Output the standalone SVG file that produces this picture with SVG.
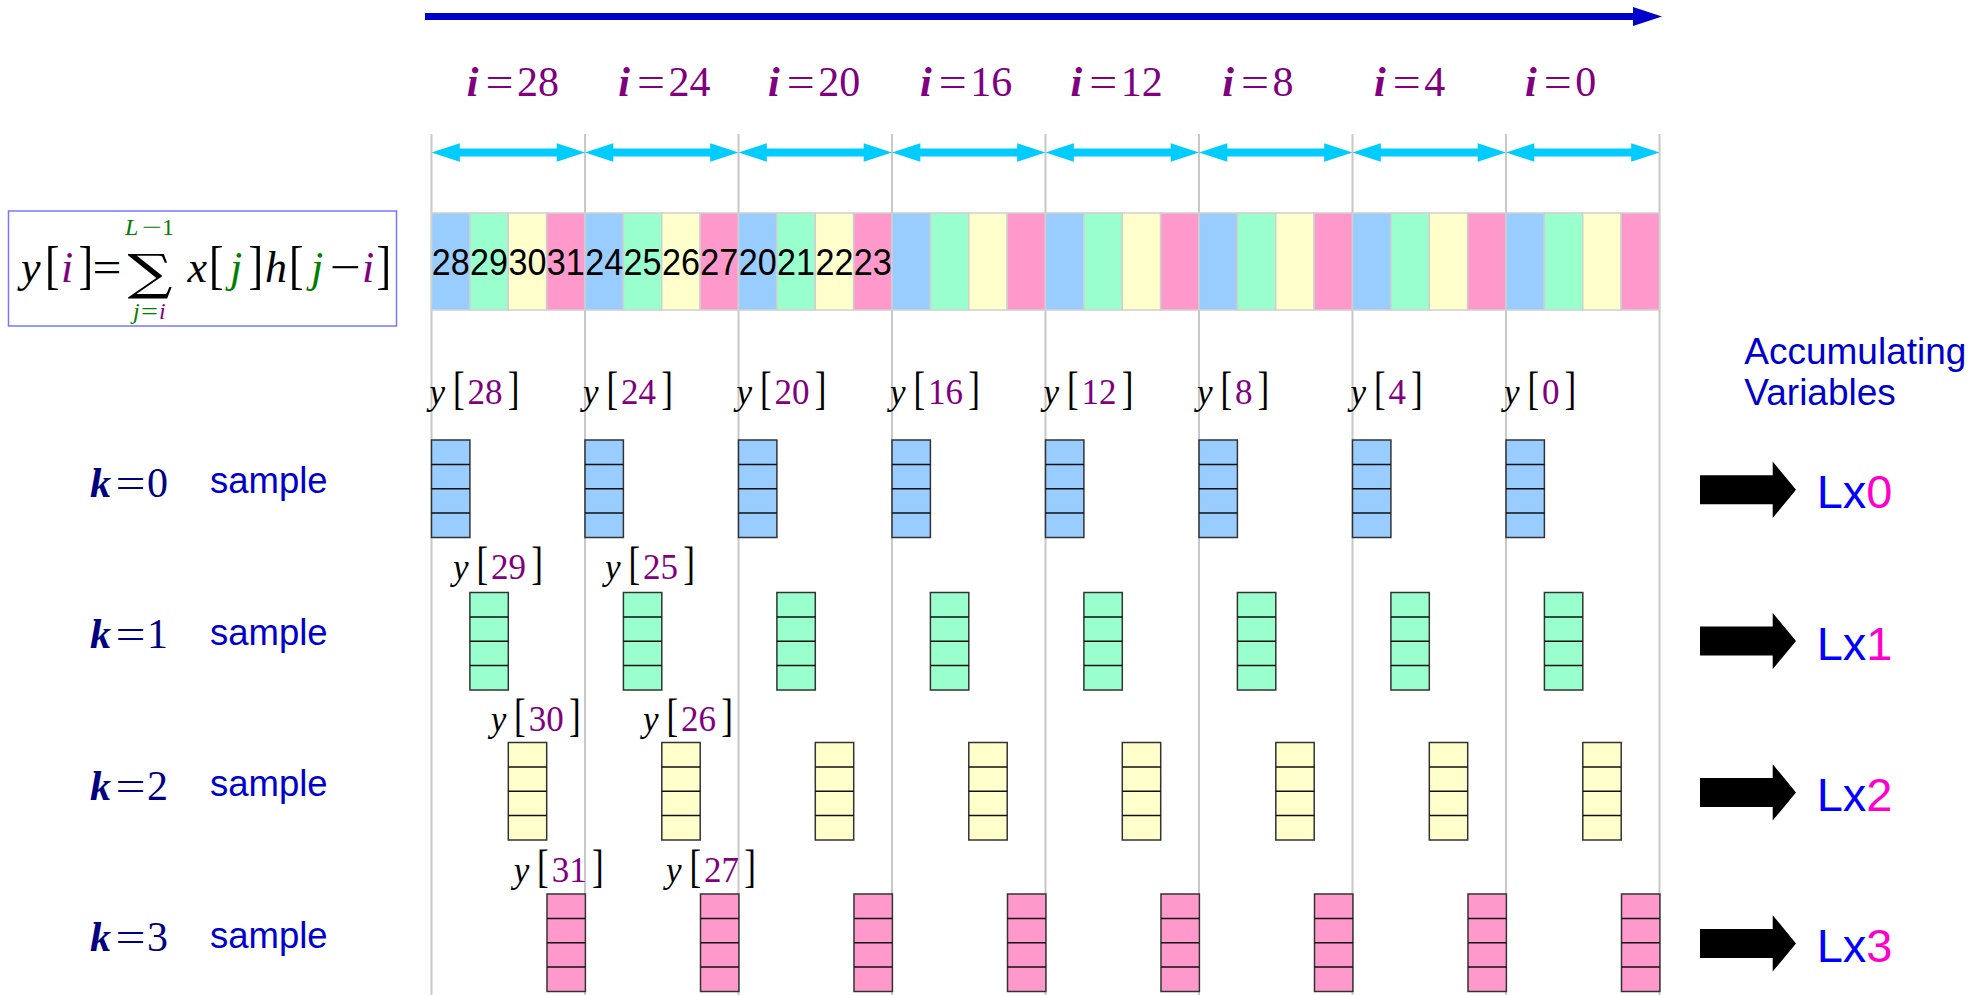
<svg xmlns="http://www.w3.org/2000/svg" xmlns:xlink="http://www.w3.org/1999/xlink" width="1984" height="995" viewBox="0 0 1984 995">
<style>
.serif{font-family:"Liberation Serif","Times New Roman",serif}
.it{font-style:italic}
.pu{fill:#800080}
.gr{fill:#008000}
.bk{fill:#000000}
.grid{stroke:#c8c8c8;stroke-width:2}
.cell{stroke:#d0d0d0;stroke-width:1.5}
.c0{fill:#99ccff}
.c1{fill:#99ffcc}
.c2{fill:#ffffcc}
.c3{fill:#ff99cc}
.cyan{fill:#00ccff}
.big{fill:#000000}
.ylab text{font-family:"Liberation Serif","Times New Roman",serif;font-size:35px}
.ilab{font-family:"Liberation Serif","Times New Roman",serif;font-size:42px;fill:#800080}
.klab{font-family:"Liberation Serif","Times New Roman",serif;font-size:42px;fill:#000080}
.samp{font-family:"Liberation Sans",Arial,sans-serif;font-size:36.5px;fill:#0000cc}
.acc{font-family:"Liberation Sans",Arial,sans-serif;font-size:37px;fill:#0000cc}
.lx{font-family:"Liberation Sans",Arial,sans-serif;font-size:47px}
.num{font-family:"Liberation Sans",Arial,sans-serif;font-size:37px;fill:#000}
</style>
<defs>
<g id="stk">
<rect x="0" y="0" width="38.4" height="97.5" stroke="#333" stroke-width="1.5"/>
<path d="M0 24.4H38.4M0 48.8H38.4M0 73.1H38.4" stroke="#111" stroke-width="1.5" fill="none"/>
</g>
</defs>
<rect width="1984" height="995" fill="#fff"/>

<g id="grid">
<line class="grid" x1="431.5" y1="134" x2="431.5" y2="995"/>
<line class="grid" x1="585" y1="134" x2="585" y2="995"/>
<line class="grid" x1="738.5" y1="134" x2="738.5" y2="995"/>
<line class="grid" x1="892" y1="134" x2="892" y2="995"/>
<line class="grid" x1="1045.5" y1="134" x2="1045.5" y2="995"/>
<line class="grid" x1="1199" y1="134" x2="1199" y2="995"/>
<line class="grid" x1="1352.5" y1="134" x2="1352.5" y2="995"/>
<line class="grid" x1="1506" y1="134" x2="1506" y2="995"/>
<line class="grid" x1="1659.5" y1="134" x2="1659.5" y2="995"/>
</g>

<g id="connectors">
<line x1="425" y1="16.5" x2="1636" y2="16.5" stroke="#0000cc" stroke-width="7"/>
<polygon points="1633,7 1662,16.5 1633,26" fill="#0000cc"/>
<g id="span-arrows">
<rect class="cyan" x="455" y="148.5" width="106.5" height="8"/>
<polygon class="cyan" points="431.5,152.5 459.8,143.3 459.8,161.7"/>
<polygon class="cyan" points="585,152.5 556.7,143.3 556.7,161.7"/>
<rect class="cyan" x="608.5" y="148.5" width="106.5" height="8"/>
<polygon class="cyan" points="585,152.5 613.3,143.3 613.3,161.7"/>
<polygon class="cyan" points="738.5,152.5 710.2,143.3 710.2,161.7"/>
<rect class="cyan" x="762" y="148.5" width="106.5" height="8"/>
<polygon class="cyan" points="738.5,152.5 766.8,143.3 766.8,161.7"/>
<polygon class="cyan" points="892,152.5 863.7,143.3 863.7,161.7"/>
<rect class="cyan" x="915.5" y="148.5" width="106.5" height="8"/>
<polygon class="cyan" points="892,152.5 920.3,143.3 920.3,161.7"/>
<polygon class="cyan" points="1045.5,152.5 1017.2,143.3 1017.2,161.7"/>
<rect class="cyan" x="1069" y="148.5" width="106.5" height="8"/>
<polygon class="cyan" points="1045.5,152.5 1073.8,143.3 1073.8,161.7"/>
<polygon class="cyan" points="1199,152.5 1170.7,143.3 1170.7,161.7"/>
<rect class="cyan" x="1222.5" y="148.5" width="106.5" height="8"/>
<polygon class="cyan" points="1199,152.5 1227.3,143.3 1227.3,161.7"/>
<polygon class="cyan" points="1352.5,152.5 1324.2,143.3 1324.2,161.7"/>
<rect class="cyan" x="1376" y="148.5" width="106.5" height="8"/>
<polygon class="cyan" points="1352.5,152.5 1380.8,143.3 1380.8,161.7"/>
<polygon class="cyan" points="1506,152.5 1477.7,143.3 1477.7,161.7"/>
<rect class="cyan" x="1529.5" y="148.5" width="106.5" height="8"/>
<polygon class="cyan" points="1506,152.5 1534.3,143.3 1534.3,161.7"/>
<polygon class="cyan" points="1659.5,152.5 1631.2,143.3 1631.2,161.7"/>
</g>
<g id="out-arrows">
<polygon class="big" points="1700,475.3 1772.7,475.3 1772.7,461.6 1796,489.8 1772.7,518 1772.7,504.3 1700,504.3"/>
<polygon class="big" points="1700,626.5 1772.7,626.5 1772.7,612.8 1796,641 1772.7,669.2 1772.7,655.5 1700,655.5"/>
<polygon class="big" points="1700,777.9 1772.7,777.9 1772.7,764.2 1796,792.4 1772.7,820.6 1772.7,806.9 1700,806.9"/>
<polygon class="big" points="1700,928.9 1772.7,928.9 1772.7,915.2 1796,943.4 1772.7,971.6 1772.7,957.9 1700,957.9"/>
</g>
</g>

<g id="i-labels">
<text class="ilab" y="96"><tspan x="466.7" font-weight="bold" font-style="italic">i</tspan><tspan x="485.5" textLength="28" lengthAdjust="spacingAndGlyphs">=</tspan><tspan x="517">28</tspan></text>
<text class="ilab" y="96"><tspan x="618.3" font-weight="bold" font-style="italic">i</tspan><tspan x="637.1" textLength="28" lengthAdjust="spacingAndGlyphs">=</tspan><tspan x="668.6">24</tspan></text>
<text class="ilab" y="96"><tspan x="768" font-weight="bold" font-style="italic">i</tspan><tspan x="786.8" textLength="28" lengthAdjust="spacingAndGlyphs">=</tspan><tspan x="818.3">20</tspan></text>
<text class="ilab" y="96"><tspan x="919.9" font-weight="bold" font-style="italic">i</tspan><tspan x="938.7" textLength="28" lengthAdjust="spacingAndGlyphs">=</tspan><tspan x="970.2">16</tspan></text>
<text class="ilab" y="96"><tspan x="1070.4" font-weight="bold" font-style="italic">i</tspan><tspan x="1089.2" textLength="28" lengthAdjust="spacingAndGlyphs">=</tspan><tspan x="1120.7">12</tspan></text>
<text class="ilab" y="96"><tspan x="1222.3" font-weight="bold" font-style="italic">i</tspan><tspan x="1241.1" textLength="28" lengthAdjust="spacingAndGlyphs">=</tspan><tspan x="1272.6">8</tspan></text>
<text class="ilab" y="96"><tspan x="1374" font-weight="bold" font-style="italic">i</tspan><tspan x="1392.8" textLength="28" lengthAdjust="spacingAndGlyphs">=</tspan><tspan x="1424.3">4</tspan></text>
<text class="ilab" y="96"><tspan x="1524.9" font-weight="bold" font-style="italic">i</tspan><tspan x="1543.7" textLength="28" lengthAdjust="spacingAndGlyphs">=</tspan><tspan x="1575.2">0</tspan></text>
</g>

<g id="formula">
<rect x="8.5" y="211" width="388" height="115" fill="none" stroke="#7777ff" stroke-width="1.5"/>
<g class="serif" font-size="44">
<text x="21" y="282" class="it bk">y</text>
<text transform="translate(45.1,283) scale(1,1.22)" class="bk">[</text>
<text x="61" y="282" class="it pu">i</text>
<text transform="translate(78.5,283) scale(1,1.22)" class="bk">]</text>
<text x="92.5" y="282" class="bk" textLength="29" lengthAdjust="spacingAndGlyphs">=</text>
<text x="187.5" y="282" class="it bk">x</text>
<text transform="translate(209.1,283) scale(1,1.22)" class="bk">[</text>
<text x="230" y="282" class="it gr">j</text>
<text transform="translate(248.5,283) scale(1,1.22)" class="bk">]</text>
<text x="265" y="282" class="it bk">h</text>
<text transform="translate(289.1,283) scale(1,1.22)" class="bk">[</text>
<text x="311" y="282" class="it gr">j</text>
<text x="330" y="282" class="bk" textLength="31" lengthAdjust="spacingAndGlyphs">−</text>
<text x="362" y="282" class="it pu">i</text>
<text transform="translate(376.5,283) scale(1,1.22)" class="bk">]</text>
</g>
<text font-family="DejaVu Serif,serif" font-size="49" x="127.5" y="288.5" textLength="45" lengthAdjust="spacingAndGlyphs" fill="#000">∑</text>
<text class="serif gr" font-size="24" y="235"><tspan x="125" class="it">L</tspan><tspan x="142" textLength="20" lengthAdjust="spacingAndGlyphs">−</tspan><tspan x="162">1</tspan></text>
<text class="serif" font-size="24" y="319"><tspan x="133" class="it gr">j</tspan><tspan x="141" class="gr" textLength="17" lengthAdjust="spacingAndGlyphs">=</tspan><tspan x="159" class="it pu">i</tspan></text>
</g>

<g id="strip">
<rect class="cell c0" x="431.5" y="213" width="38.375" height="97"/>
<rect class="cell c1" x="469.875" y="213" width="38.375" height="97"/>
<rect class="cell c2" x="508.25" y="213" width="38.375" height="97"/>
<rect class="cell c3" x="546.625" y="213" width="38.375" height="97"/>
<rect class="cell c0" x="585" y="213" width="38.375" height="97"/>
<rect class="cell c1" x="623.375" y="213" width="38.375" height="97"/>
<rect class="cell c2" x="661.75" y="213" width="38.375" height="97"/>
<rect class="cell c3" x="700.125" y="213" width="38.375" height="97"/>
<rect class="cell c0" x="738.5" y="213" width="38.375" height="97"/>
<rect class="cell c1" x="776.875" y="213" width="38.375" height="97"/>
<rect class="cell c2" x="815.25" y="213" width="38.375" height="97"/>
<rect class="cell c3" x="853.625" y="213" width="38.375" height="97"/>
<rect class="cell c0" x="892" y="213" width="38.375" height="97"/>
<rect class="cell c1" x="930.375" y="213" width="38.375" height="97"/>
<rect class="cell c2" x="968.75" y="213" width="38.375" height="97"/>
<rect class="cell c3" x="1007.125" y="213" width="38.375" height="97"/>
<rect class="cell c0" x="1045.5" y="213" width="38.375" height="97"/>
<rect class="cell c1" x="1083.875" y="213" width="38.375" height="97"/>
<rect class="cell c2" x="1122.25" y="213" width="38.375" height="97"/>
<rect class="cell c3" x="1160.625" y="213" width="38.375" height="97"/>
<rect class="cell c0" x="1199" y="213" width="38.375" height="97"/>
<rect class="cell c1" x="1237.375" y="213" width="38.375" height="97"/>
<rect class="cell c2" x="1275.75" y="213" width="38.375" height="97"/>
<rect class="cell c3" x="1314.125" y="213" width="38.375" height="97"/>
<rect class="cell c0" x="1352.5" y="213" width="38.375" height="97"/>
<rect class="cell c1" x="1390.875" y="213" width="38.375" height="97"/>
<rect class="cell c2" x="1429.25" y="213" width="38.375" height="97"/>
<rect class="cell c3" x="1467.625" y="213" width="38.375" height="97"/>
<rect class="cell c0" x="1506" y="213" width="38.375" height="97"/>
<rect class="cell c1" x="1544.375" y="213" width="38.375" height="97"/>
<rect class="cell c2" x="1582.75" y="213" width="38.375" height="97"/>
<rect class="cell c3" x="1621.125" y="213" width="38.375" height="97"/>
<g class="num" text-anchor="middle">
<text x="450.7" y="275" textLength="38" lengthAdjust="spacingAndGlyphs">28</text>
<text x="489.1" y="275" textLength="38" lengthAdjust="spacingAndGlyphs">29</text>
<text x="527.4" y="275" textLength="38" lengthAdjust="spacingAndGlyphs">30</text>
<text x="565.8" y="275" textLength="38" lengthAdjust="spacingAndGlyphs">31</text>
<text x="604.2" y="275" textLength="38" lengthAdjust="spacingAndGlyphs">24</text>
<text x="642.6" y="275" textLength="38" lengthAdjust="spacingAndGlyphs">25</text>
<text x="680.9" y="275" textLength="38" lengthAdjust="spacingAndGlyphs">26</text>
<text x="719.3" y="275" textLength="38" lengthAdjust="spacingAndGlyphs">27</text>
<text x="757.7" y="275" textLength="38" lengthAdjust="spacingAndGlyphs">20</text>
<text x="796.1" y="275" textLength="38" lengthAdjust="spacingAndGlyphs">21</text>
<text x="834.4" y="275" textLength="38" lengthAdjust="spacingAndGlyphs">22</text>
<text x="872.8" y="275" textLength="38" lengthAdjust="spacingAndGlyphs">23</text>
</g>
</g>

<g id="y-labels" class="ylab">
<g id="y28"><text x="429.5" y="403.5" class="it bk">y</text><text transform="translate(452.9,403.5) scale(1,1.3)" class="bk">[</text><text x="467.5" y="403.5" class="pu">28</text><text transform="translate(507.8,403.5) scale(1,1.3)" class="bk">]</text></g>
<g id="y24"><text x="583" y="403.5" class="it bk">y</text><text transform="translate(606.4,403.5) scale(1,1.3)" class="bk">[</text><text x="621" y="403.5" class="pu">24</text><text transform="translate(661.3,403.5) scale(1,1.3)" class="bk">]</text></g>
<g id="y20"><text x="736.5" y="403.5" class="it bk">y</text><text transform="translate(759.9,403.5) scale(1,1.3)" class="bk">[</text><text x="774.5" y="403.5" class="pu">20</text><text transform="translate(814.8,403.5) scale(1,1.3)" class="bk">]</text></g>
<g id="y16"><text x="890" y="403.5" class="it bk">y</text><text transform="translate(913.4,403.5) scale(1,1.3)" class="bk">[</text><text x="928" y="403.5" class="pu">16</text><text transform="translate(968.3,403.5) scale(1,1.3)" class="bk">]</text></g>
<g id="y12"><text x="1043.5" y="403.5" class="it bk">y</text><text transform="translate(1066.9,403.5) scale(1,1.3)" class="bk">[</text><text x="1081.5" y="403.5" class="pu">12</text><text transform="translate(1121.8,403.5) scale(1,1.3)" class="bk">]</text></g>
<g id="y8"><text x="1197" y="403.5" class="it bk">y</text><text transform="translate(1220.4,403.5) scale(1,1.3)" class="bk">[</text><text x="1235" y="403.5" class="pu">8</text><text transform="translate(1257.5,403.5) scale(1,1.3)" class="bk">]</text></g>
<g id="y4"><text x="1350.5" y="403.5" class="it bk">y</text><text transform="translate(1373.9,403.5) scale(1,1.3)" class="bk">[</text><text x="1388.5" y="403.5" class="pu">4</text><text transform="translate(1411,403.5) scale(1,1.3)" class="bk">]</text></g>
<g id="y0"><text x="1504" y="403.5" class="it bk">y</text><text transform="translate(1527.4,403.5) scale(1,1.3)" class="bk">[</text><text x="1542" y="403.5" class="pu">0</text><text transform="translate(1564.5,403.5) scale(1,1.3)" class="bk">]</text></g>
<g id="y29"><text x="453" y="578.5" class="it bk">y</text><text transform="translate(476.4,578.5) scale(1,1.3)" class="bk">[</text><text x="491" y="578.5" class="pu">29</text><text transform="translate(531.3,578.5) scale(1,1.3)" class="bk">]</text></g>
<g id="y25"><text x="605" y="578.5" class="it bk">y</text><text transform="translate(628.4,578.5) scale(1,1.3)" class="bk">[</text><text x="643" y="578.5" class="pu">25</text><text transform="translate(683.3,578.5) scale(1,1.3)" class="bk">]</text></g>
<g id="y30"><text x="490.7" y="730.5" class="it bk">y</text><text transform="translate(514.1,730.5) scale(1,1.3)" class="bk">[</text><text x="528.7" y="730.5" class="pu">30</text><text transform="translate(569,730.5) scale(1,1.3)" class="bk">]</text></g>
<g id="y26"><text x="643" y="730.5" class="it bk">y</text><text transform="translate(666.4,730.5) scale(1,1.3)" class="bk">[</text><text x="681" y="730.5" class="pu">26</text><text transform="translate(721.3,730.5) scale(1,1.3)" class="bk">]</text></g>
<g id="y31"><text x="513.7" y="882" class="it bk">y</text><text transform="translate(537.1,882) scale(1,1.3)" class="bk">[</text><text x="551.7" y="882" class="pu">31</text><text transform="translate(592,882) scale(1,1.3)" class="bk">]</text></g>
<g id="y27"><text x="666" y="882" class="it bk">y</text><text transform="translate(689.4,882) scale(1,1.3)" class="bk">[</text><text x="704" y="882" class="pu">27</text><text transform="translate(744.3,882) scale(1,1.3)" class="bk">]</text></g>
</g>

<g id="k-labels">
<g id="k0"><text class="klab" y="496.7"><tspan x="90" font-weight="bold" font-style="italic">k</tspan><tspan x="115.5" textLength="30" lengthAdjust="spacingAndGlyphs">=</tspan><tspan x="147">0</tspan></text>
<text class="samp" x="210" y="493.3">sample</text></g>
<g id="k1"><text class="klab" y="648.1"><tspan x="90" font-weight="bold" font-style="italic">k</tspan><tspan x="115.5" textLength="30" lengthAdjust="spacingAndGlyphs">=</tspan><tspan x="147">1</tspan></text>
<text class="samp" x="210" y="644.7">sample</text></g>
<g id="k2"><text class="klab" y="799.5"><tspan x="90" font-weight="bold" font-style="italic">k</tspan><tspan x="115.5" textLength="30" lengthAdjust="spacingAndGlyphs">=</tspan><tspan x="147">2</tspan></text>
<text class="samp" x="210" y="796.1">sample</text></g>
<g id="k3"><text class="klab" y="950.9"><tspan x="90" font-weight="bold" font-style="italic">k</tspan><tspan x="115.5" textLength="30" lengthAdjust="spacingAndGlyphs">=</tspan><tspan x="147">3</tspan></text>
<text class="samp" x="210" y="947.5">sample</text></g>
</g>

<g id="blocks-k0">
<g id="b28"><use href="#stk" class="c0" x="431.5" y="440"/></g>
<g id="b24"><use href="#stk" class="c0" x="585" y="440"/></g>
<g id="b20"><use href="#stk" class="c0" x="738.5" y="440"/></g>
<g id="b16"><use href="#stk" class="c0" x="892" y="440"/></g>
<g id="b12"><use href="#stk" class="c0" x="1045.5" y="440"/></g>
<g id="b8"><use href="#stk" class="c0" x="1199" y="440"/></g>
<g id="b4"><use href="#stk" class="c0" x="1352.5" y="440"/></g>
<g id="b0"><use href="#stk" class="c0" x="1506" y="440"/></g>
</g>
<g id="blocks-k1">
<g id="b29"><use href="#stk" class="c1" x="469.9" y="592.5"/></g>
<g id="b25"><use href="#stk" class="c1" x="623.4" y="592.5"/></g>
<g id="b21"><use href="#stk" class="c1" x="776.9" y="592.5"/></g>
<g id="b17"><use href="#stk" class="c1" x="930.4" y="592.5"/></g>
<g id="b13"><use href="#stk" class="c1" x="1083.9" y="592.5"/></g>
<g id="b9"><use href="#stk" class="c1" x="1237.4" y="592.5"/></g>
<g id="b5"><use href="#stk" class="c1" x="1390.9" y="592.5"/></g>
<g id="b1"><use href="#stk" class="c1" x="1544.4" y="592.5"/></g>
</g>
<g id="blocks-k2">
<g id="b30"><use href="#stk" class="c2" x="508.3" y="742.5"/></g>
<g id="b26"><use href="#stk" class="c2" x="661.8" y="742.5"/></g>
<g id="b22"><use href="#stk" class="c2" x="815.3" y="742.5"/></g>
<g id="b18"><use href="#stk" class="c2" x="968.8" y="742.5"/></g>
<g id="b14"><use href="#stk" class="c2" x="1122.3" y="742.5"/></g>
<g id="b10"><use href="#stk" class="c2" x="1275.8" y="742.5"/></g>
<g id="b6"><use href="#stk" class="c2" x="1429.3" y="742.5"/></g>
<g id="b2"><use href="#stk" class="c2" x="1582.8" y="742.5"/></g>
</g>
<g id="blocks-k3">
<g id="b31"><use href="#stk" class="c3" x="547" y="894"/></g>
<g id="b27"><use href="#stk" class="c3" x="700.5" y="894"/></g>
<g id="b23"><use href="#stk" class="c3" x="854" y="894"/></g>
<g id="b19"><use href="#stk" class="c3" x="1007.5" y="894"/></g>
<g id="b15"><use href="#stk" class="c3" x="1161" y="894"/></g>
<g id="b11"><use href="#stk" class="c3" x="1314.5" y="894"/></g>
<g id="b7"><use href="#stk" class="c3" x="1468" y="894"/></g>
<g id="b3"><use href="#stk" class="c3" x="1621.5" y="894"/></g>
</g>

<g id="acc-title">
<text class="acc" x="1744.3" y="364">Accumulating</text>
<text class="acc" x="1744.3" y="405">Variables</text>
</g>
<g id="lx0"><text class="lx" x="1816.7" y="508"><tspan fill="#0000ff">Lx</tspan><tspan fill="#ff00cc">0</tspan></text></g>
<g id="lx1"><text class="lx" x="1816.7" y="659.5"><tspan fill="#0000ff">Lx</tspan><tspan fill="#ff00cc">1</tspan></text></g>
<g id="lx2"><text class="lx" x="1816.7" y="811"><tspan fill="#0000ff">Lx</tspan><tspan fill="#ff00cc">2</tspan></text></g>
<g id="lx3"><text class="lx" x="1816.7" y="961.7"><tspan fill="#0000ff">Lx</tspan><tspan fill="#ff00cc">3</tspan></text></g>
</svg>
